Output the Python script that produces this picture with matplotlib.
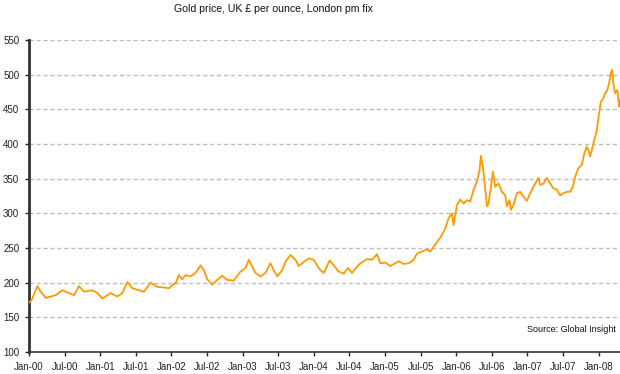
import matplotlib
matplotlib.use("Agg")
import matplotlib.pyplot as plt

plt.rcParams['font.family'] = ['Liberation Sans', 'DejaVu Sans']

# Months since Jan 2000 and gold price (GBP per ounce)
months = [0, 0.45, 1.41, 1.97, 2.81, 3.65, 4.49, 5.62, 6.73, 7.58, 8.42, 9.26, 10.67, 11.52,
          12.36, 13.75, 14.88, 15.72, 16.57, 17.41, 18.52, 19.36, 20.49, 21.62, 22.73, 23.57,
          24.41, 24.70, 25.25, 25.82, 26.38, 27.22, 28.06, 28.91, 29.46, 30.03, 30.88, 31.72,
          32.56, 33.40, 34.51, 35.64, 36.48, 37.04, 37.61, 38.17, 39.01, 39.85, 40.69, 41.25,
          41.82, 42.66, 43.22, 44.07, 44.90, 45.45, 46.30, 47.14, 47.98, 48.82, 49.11, 49.66,
          50.67, 51.35, 52.19, 53.03, 53.70, 54.44, 55.29, 55.84, 56.97, 57.81, 58.65, 59.21,
          60.05, 60.89, 61.73, 62.29, 63.13, 63.97, 64.81, 65.39, 66.23, 67.07, 67.63, 68.47,
          69.31, 70.15, 70.71, 71.28, 71.55, 72.12, 72.68, 73.23, 73.80, 74.36, 74.92, 75.49,
          75.93, 76.16, 76.50, 76.88, 77.17, 77.44, 77.84, 78.18, 78.57, 79.12, 79.70, 80.25,
          80.54, 80.98, 81.21, 81.65, 82.22, 82.78, 83.33, 83.91, 84.46, 85.30, 85.86, 86.14,
          86.70, 87.27, 87.83, 88.38, 88.96, 89.51, 90.07, 90.64, 91.20, 91.65, 92.04, 92.59,
          93.17, 93.60, 94.01, 94.28, 94.56, 94.85, 95.12, 95.69, 96.13, 96.36, 96.80, 97.09,
          97.47, 97.81, 98.05, 98.27, 98.48, 98.77, 99.16, 99.44, 99.61]
price = [171, 175, 195, 187, 178, 180, 182, 189, 185, 182, 195, 187, 189, 185,
         177, 185, 180, 185, 201, 192, 189, 187, 200, 194, 193, 192,
         198, 199, 211, 205, 211, 209, 214, 225, 218, 205, 197, 204,
         210, 204, 203, 216, 221, 233, 223, 214, 209, 214, 228, 218,
         209, 218, 230, 240, 233, 224, 230, 235, 233, 221, 218, 214,
         232, 225, 216, 213, 221, 214, 223, 228, 234, 233, 241, 228,
         229, 224, 228, 231, 227, 228, 233, 242, 245, 248, 245, 255,
         265, 278, 293, 300, 283, 312, 320, 314, 319, 317, 334, 346,
         362, 383, 367, 336, 310, 314, 338, 360, 338, 343, 331, 326,
         310, 319, 305, 312, 329, 331, 324, 318, 329, 343, 351, 341,
         343, 351, 343, 336, 334, 326, 329, 331, 331, 338, 353, 365,
         370, 387, 396, 391, 382, 391, 401, 420, 447, 461, 466, 473,
         478, 490, 502, 507, 487, 473, 478, 454, 463]

tick_months = [0, 6, 12, 18, 24, 30, 36, 42, 48, 54, 60, 66, 72, 78, 84, 90, 96]
tick_labels = ['Jan-00', 'Jul-00', 'Jan-01', 'Jul-01', 'Jan-02', 'Jul-02', 'Jan-03', 'Jul-03',
               'Jan-04', 'Jul-04', 'Jan-05', 'Jul-05', 'Jan-06', 'Jul-06', 'Jan-07', 'Jul-07',
               'Jan-08']
y_ticks = [100, 150, 200, 250, 300, 350, 400, 450, 500, 550]

fig = plt.figure(figsize=(6.2, 3.74), dpi=100)
ax = fig.add_axes([29/620, 22/374, (620-29)/620, 312/374])

for y in y_ticks[1:]:
    ax.axhline(y, color='#BDBDBD', lw=1, linestyle=(0, (3, 2)), zorder=1)

ax.plot(months, price, color='#FF9A00', lw=1.3, zorder=3)

ax.set_xlim(0, 99.6)
ax.set_ylim(100, 550)
ax.set_yticks(y_ticks)
ax.set_xticks(tick_months)
ax.set_xticklabels(tick_labels)
ax.tick_params(axis='both', labelsize=7, length=3, width=1, colors='#222222', direction='out')
ax.tick_params(axis='y', pad=4)
ax.tick_params(axis='x', pad=4)

for s in ['top', 'right']:
    ax.spines[s].set_visible(False)
ax.spines['left'].set_linewidth(2)
ax.spines['left'].set_color('#333333')
ax.spines['bottom'].set_linewidth(1.2)
ax.spines['bottom'].set_color('#333333')
ax.spines['bottom'].set_linestyle((0, (1, 1)))

fig.text(273/620, 1 - 9/374, 'Gold price, UK £ per ounce, London pm fix', ha='center', va='center',
         fontsize=7.6, color='#111111')
fig.text(616/620, 1 - 330/374, 'Source: Global Insight', ha='right', va='center',
         fontsize=6.5, color='#111111')

fig.savefig('out.png', dpi=100)
